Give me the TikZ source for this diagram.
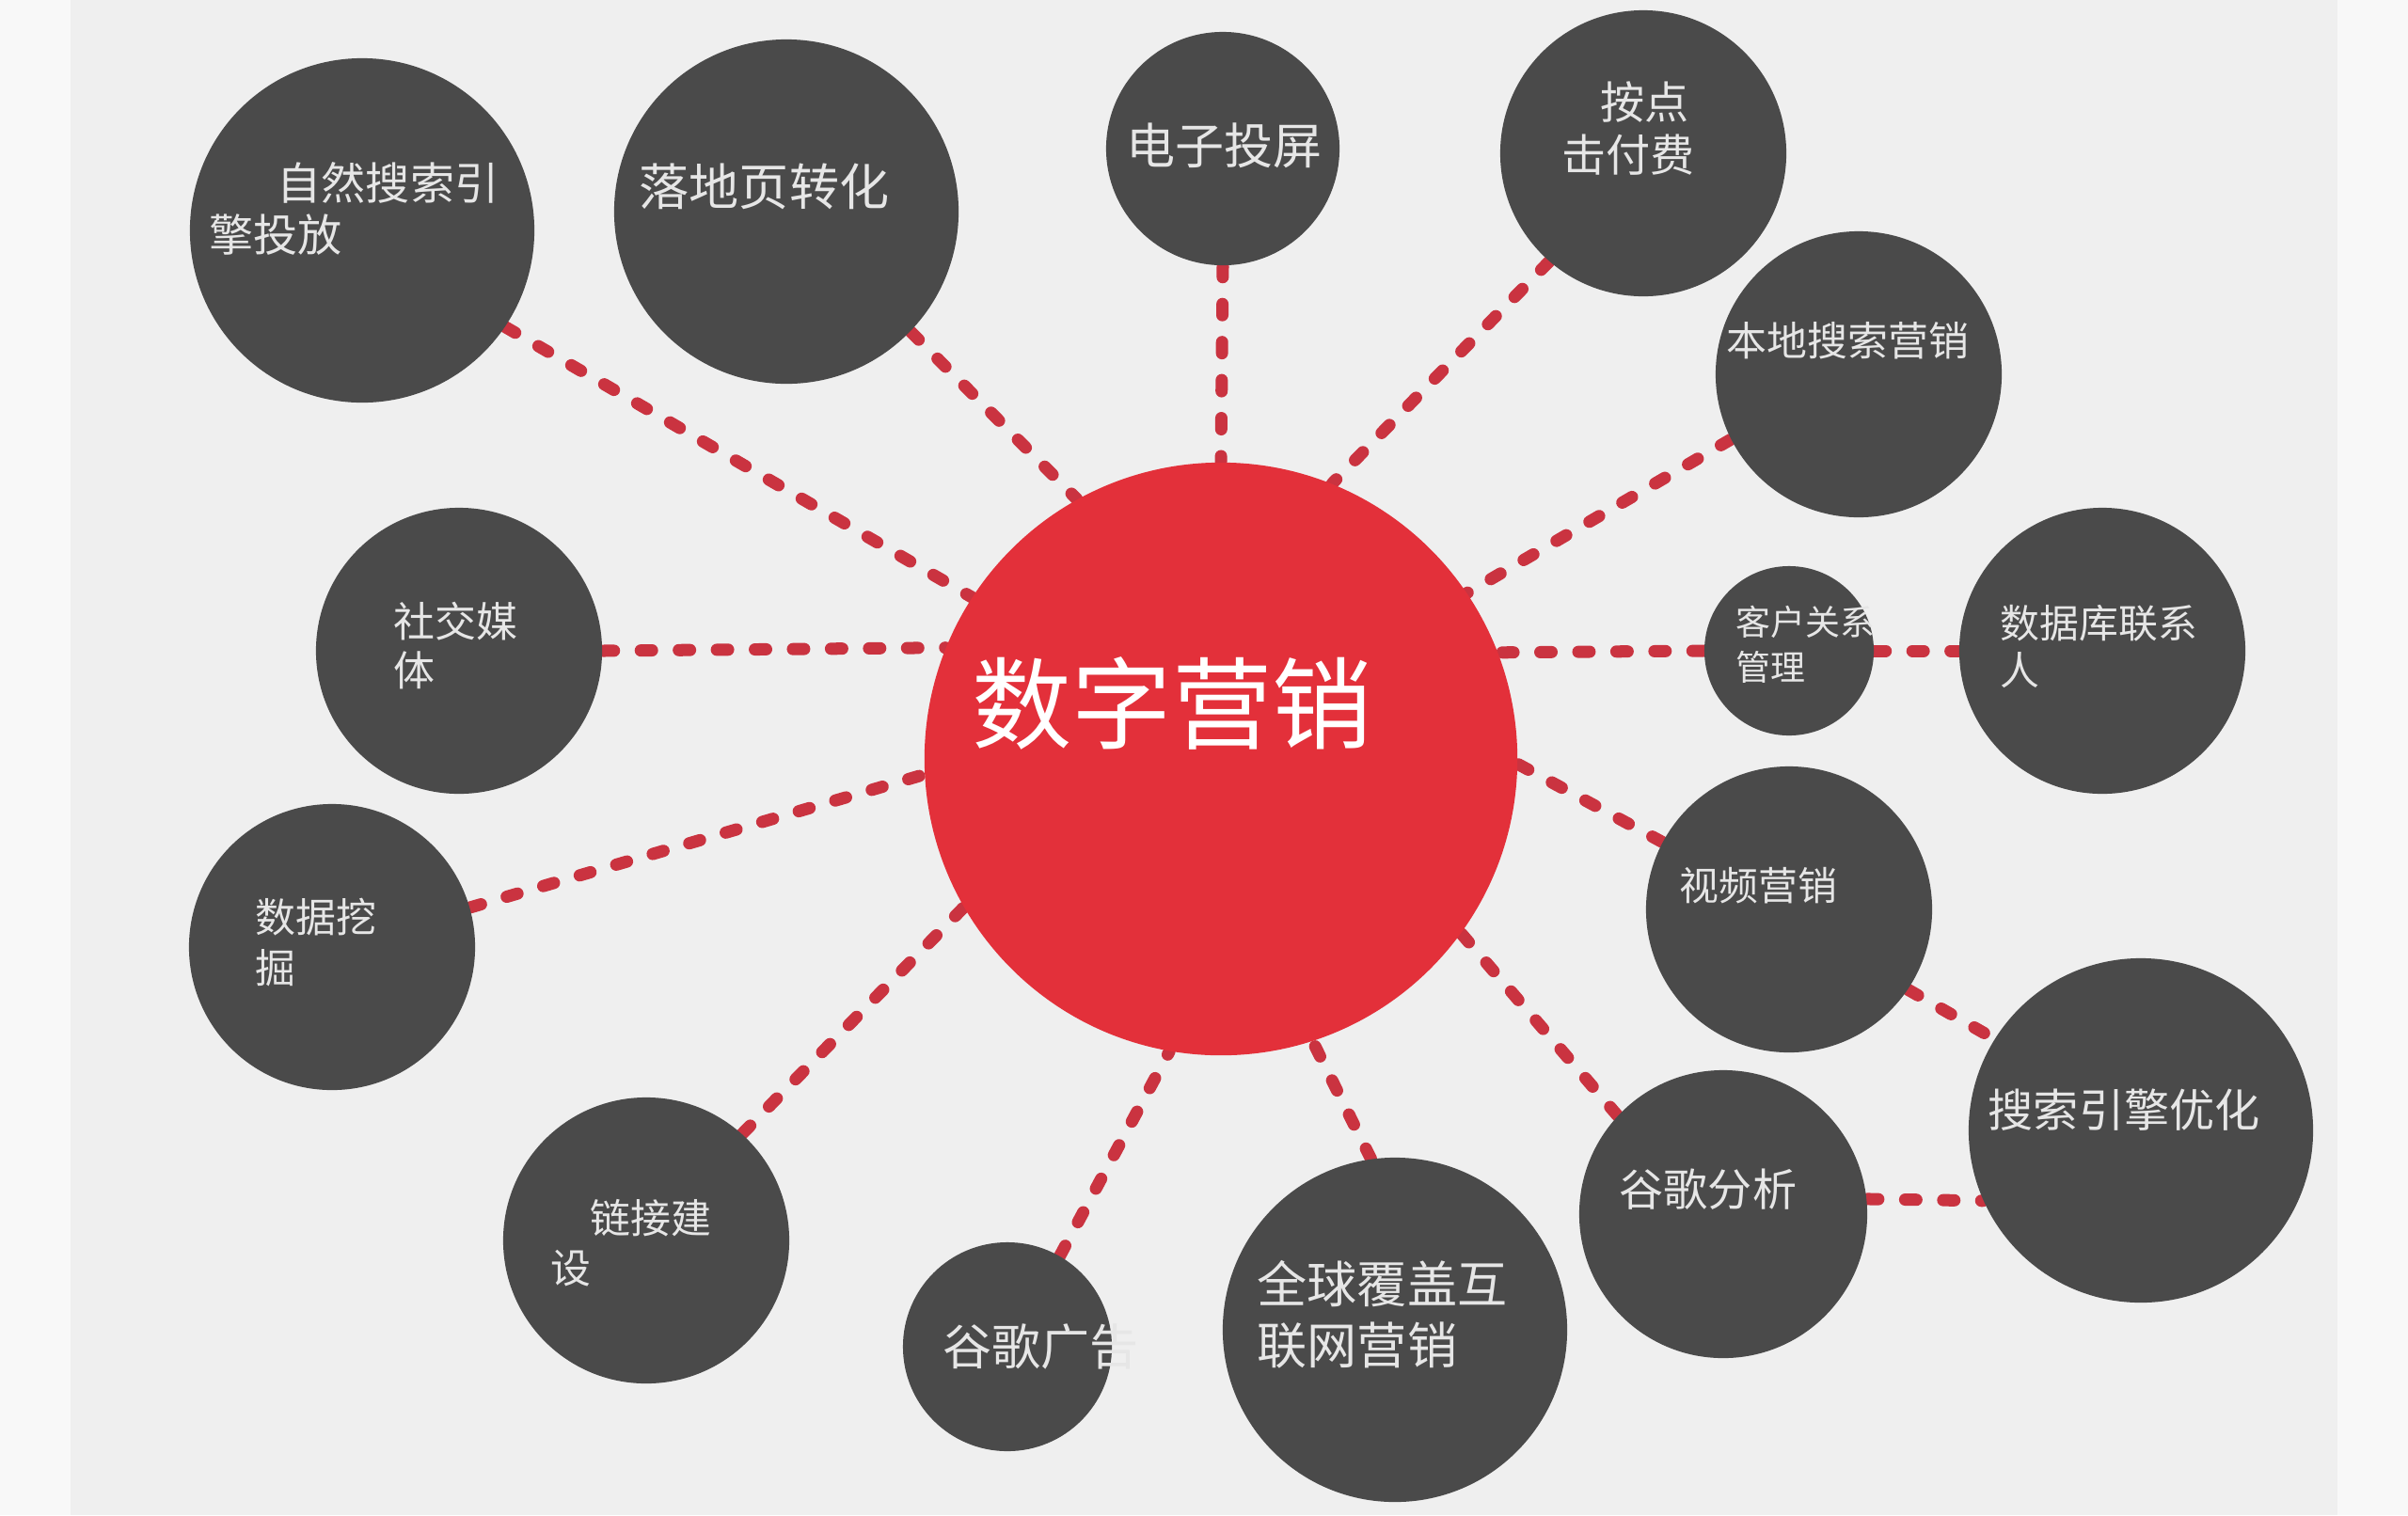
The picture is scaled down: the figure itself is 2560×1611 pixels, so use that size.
\documentclass[tikz,border=0pt]{standalone}
\usepackage{fontspec}
\newfontfamily\cjk{Noto Sans CJK SC}
\usetikzlibrary{backgrounds}
\definecolor{bgband}{HTML}{EFEFEF}
\definecolor{bgside}{HTML}{F8F8F8}
\definecolor{ballgray}{HTML}{4A4A4A}
\definecolor{hubred}{HTML}{E3303A}
\definecolor{dashred}{HTML}{CA3340}
\definecolor{txtgray}{HTML}{E6E6E6}
\begin{document}
\begin{tikzpicture}[x=0.01cm,y=-0.01cm,
  ball/.style={circle,fill=ballgray,inner sep=0pt,draw=none,minimum size=#1},
  hub/.style={circle,fill=hubred,inner sep=0pt,draw=none,minimum size=#1},
  lbl/.style={anchor=west,inner sep=0pt,text=txtgray,font=\cjk\fontsize{#1}{#1}\selectfont},
  link/.style={draw=dashred,line width=3.7pt,line cap=round,dash pattern=on 3.4pt off 8.1pt}]
\useasboundingbox (0,0) rectangle (2560,1611);
% circles
\node[hub=6.30cm] (h) at (1298,807) {};
\node[ball=3.66cm] (s1) at (385,245) {};
\node[ball=3.66cm] (s2) at (836,225) {};
\node[ball=2.48cm] (s3) at (1300,158) {};
\node[ball=3.04cm] (s4) at (1747,163) {};
\node[ball=3.04cm] (s5) at (1976,398) {};
\node[ball=1.80cm] (s6) at (1902,692) {};
\node[ball=3.04cm] (s7) at (2235,692) {};
\node[ball=3.04cm] (s8) at (1902,967) {};
\node[ball=3.66cm] (s9) at (2276,1202) {};
\node[ball=3.06cm] (s10) at (1832,1291) {};
\node[ball=3.66cm] (s11) at (1483,1414) {};
\node[ball=2.22cm] (s12) at (1071,1432) {};
\node[ball=3.04cm] (s13) at (687,1319) {};
\node[ball=3.04cm] (s14) at (353,1007) {};
\node[ball=3.04cm] (s15) at (488,692) {};
% labels
\node[lbl=30.2pt,text=white] (th) at (1033,748) {数字营销};
\node[lbl=13.4pt] (t1a) at (294,194) {自然搜索引};
\node[lbl=13.4pt] (t1b) at (222,250) {擎投放};
\node[lbl=15.1pt] (t2) at (679,198) {落地页转化};
\node[lbl=14.8pt] (t3) at (1197,155) {电子投屏};
\node[lbl=13.4pt] (t4a) at (1701,109) {按点};
\node[lbl=13.4pt] (t4b) at (1660,165) {击付费};
\node[lbl=12.2pt] (t5) at (1835,362) {本地搜索营销};
\node[lbl=10.5pt] (t6a) at (1845,661) {客户关系};
\node[lbl=10.5pt] (t6b) at (1845,709) {管理};
\node[lbl=11.9pt] (t7a) at (2126,663) {数据库联系};
\node[lbl=11.9pt] (t7b) at (2126,713) {人};
\node[lbl=11.9pt] (t8) at (1785,942) {视频营销};
\node[lbl=13.7pt] (t9) at (2113,1180) {搜索引擎优化};
\node[lbl=13.4pt] (t10) at (1721,1265) {谷歌分析};
\node[lbl=15.1pt] (t11a) at (1336,1365) {全球覆盖互};
\node[lbl=15.1pt] (t11b) at (1336,1430) {联网营销};
\node[lbl=14.8pt] (t12) at (1002,1432) {谷歌广告};
\node[lbl=12.2pt] (t13a) at (627,1295) {链接建};
\node[lbl=12.2pt] (t13b) at (585,1349) {设};
\node[lbl=12.2pt] (t14a) at (271,975) {数据挖};
\node[lbl=12.2pt] (t14b) at (271,1029) {掘};
\node[lbl=12.5pt] (t15a) at (418,661) {社交媒};
\node[lbl=12.5pt] (t15b) at (418,713) {体};
\begin{pgfonlayer}{background}
\fill[bgside] (0,0) rectangle (2560,1611);
\fill[bgband] (75,0) rectangle (2485,1611);
\draw[link] (s1.-34) -- (h.147);
\draw[link] (s2.-44) -- (h.119);
\draw[link] (s3.-90) -- (h.90);
\draw[link] (s4.-131) -- (h.68);
\draw[link] (s5.-153) -- (h.34);
\draw[link] (s6.180) -- (h.21.3);
\draw[link] (s6.0) -- (s7.180);
\draw[link] (s8.152.6) -- (h.-1);
\draw[link] (s8.-34) -- (s9.148);
\draw[link] (s10.137.6) -- (h.-36.8);
\draw[link] (s10.6.1) -- (s9.-156.3);
\draw[link] (s11.98.8) -- (h.-72.7);
\draw[link] (s12.60.5) -- (h.-100.1);
\draw[link] (s13.48.9) -- (h.-150.5);
\draw[link] (s14.16.5) -- (h.-177.7);
\draw[link] (s15.0) -- (h.158.7);
\end{pgfonlayer}
\end{tikzpicture}
\end{document}
